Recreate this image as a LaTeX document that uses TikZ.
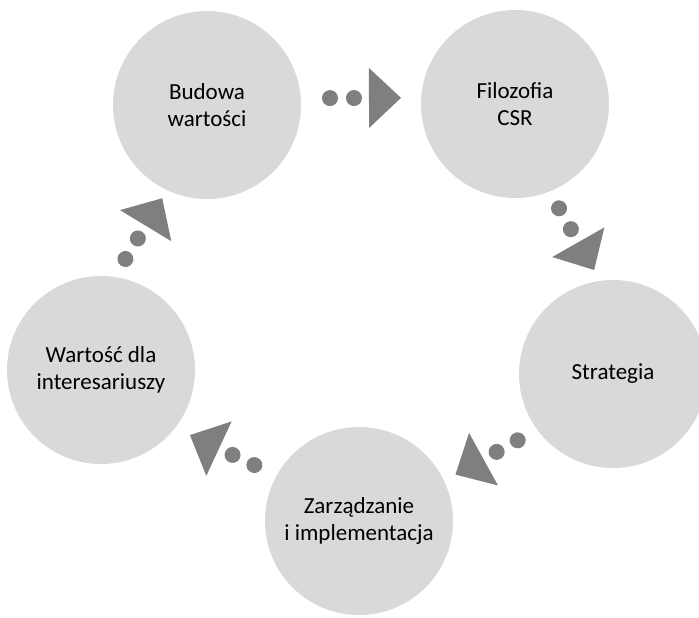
\documentclass[tikz,border=0pt]{standalone}
\usepackage{fontspec}
\setmainfont{Carlito}
\usepackage{tikz}
\usetikzlibrary{calc}
\usepackage{xcolor}

\definecolor{circlegray}{RGB}{217,217,217}
\definecolor{markgray}{RGB}{127,127,127}

\tikzset{
  stage/.style={circle, fill=circlegray, minimum size=94pt, inner sep=0pt,
    align=center, font=\fontsize{11.5}{13.75}\selectfont},
  arrowmark/.pic={
    \fill[markgray] (-31,0) circle (8);
    \fill[markgray] (-7,0) circle (8);
    \fill[markgray] (8,30) -- (40,0) -- (8,-30) -- cycle;
  }
}

% dots and triangle between two stages: from, to, outward shift, extra turn
\newcommand{\cyclelink}[4]{%
  \path let \p1=($(#2)-(#1)$), \n1={atan2(\y1,\x1)}, \n2={\n1+(#4)} in
    ($(#1)!0.5!(#2)$) ++(\n1+90:#3) pic[rotate=\n2] {arrowmark};
}

\begin{document}
\begin{tikzpicture}[x=0.5pt, y=0.5pt]

    \useasboundingbox (0,0) rectangle (699,617);

    % Define nodes
    \node[stage] (budowa) at (207,512) {Budowa\\wartości};
    \node[stage] (filozofia) at (515,513) {Filozofia\\CSR};
    \node[stage] (strategia) at (613,243) {Strategia};
    \node[stage] (zarzadzanie) at (359,96) {Zarządzanie\\i implementacja};
    \node[stage] (wartosc) at (101,247) {Wartość dla\\interesariuszy};

    % Connect the nodes
    \cyclelink{budowa}{filozofia}{6.5}{0}
    \cyclelink{filozofia}{strategia}{11}{9.7}
    \cyclelink{strategia}{zarzadzanie}{9}{-1.2}
    \cyclelink{zarzadzanie}{wartosc}{7.5}{5.4}
    \cyclelink{wartosc}{budowa}{13.5}{-9.4}

  \end{tikzpicture}
\end{document}
